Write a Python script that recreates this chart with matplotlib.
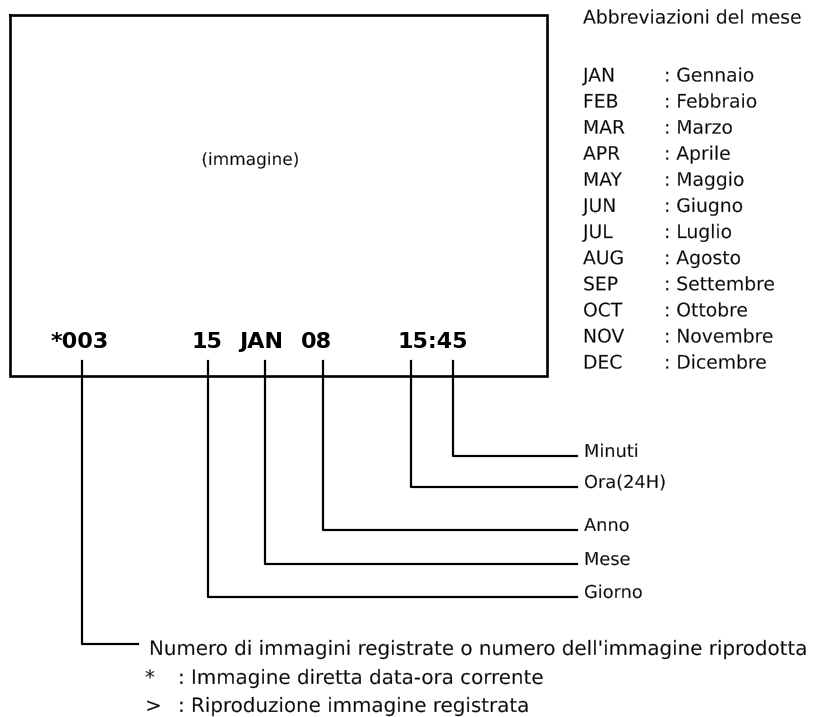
import matplotlib.pyplot as plt
import matplotlib.patheffects as pe

# display fields shown on screen (centre x) and leader drop positions
field_texts = ["*003", "15", "JAN", "08", "15:45"]
field_cx = [80, 207, 261, 316, 433]

# leaders: drop x, horizontal y, label
leader_x = [453, 411, 323, 265, 208]
leader_y = [456, 487, 530, 564, 597]
leader_labels = ["Minuti", "Ora(24H)", "Anno", "Mese", "Giorno"]

# month abbreviations
months_abbr = ["JAN", "FEB", "MAR", "APR", "MAY", "JUN",
               "JUL", "AUG", "SEP", "OCT", "NOV", "DEC"]
months_it = ["Gennaio", "Febbraio", "Marzo", "Aprile", "Maggio", "Giugno",
             "Luglio", "Agosto", "Settembre", "Ottobre", "Novembre", "Dicembre"]

notes_sym = ["*", ">"]
notes_txt = ["Immagine diretta data-ora corrente", "Riproduzione immagine registrata"]

plt.rcParams['font.family'] = ['DejaVu Sans']

# thin the regular glyphs a touch (reference font is light)
thin = [pe.Normal(), pe.Stroke(linewidth=0.2, foreground='white')]

fig = plt.figure(figsize=(8.3, 7.17), dpi=100)
ax = fig.add_axes([0, 0, 1, 1])
ax.set_xlim(0, 830)
ax.set_ylim(717, 0)
ax.axis('off')

def txt(x, y, s, size, **kw):
    kw.setdefault('ha', 'left')
    kw.setdefault('va', 'center')
    return ax.text(x, y, s, fontsize=size, color='black', path_effects=thin, **kw)

# screen box
ax.plot([10, 547, 547, 10, 10], [15, 15, 376, 376, 15], color='black', lw=1.9,
        solid_joinstyle='miter')
txt(250, 160, "(immagine)", 12.2, ha='center')

for t, x in zip(field_texts, field_cx):
    ax.text(x, 348, t, ha='center', va='baseline', fontsize=16,
            fontweight='bold', color='black')

lw = 1.6
# right-hand leaders
x_end = 577
for x, y, lab in zip(leader_x, leader_y, leader_labels):
    ax.plot([x, x, x_end], [361, y, y], color='black', lw=lw)
    txt(x_end + 7, y + 1, lab, 12.8, va='baseline')

# number-of-images leader
ax.plot([82, 82, 138], [361, 644, 644], color='black', lw=lw)
txt(149, 655, "Numero di immagini registrate o numero dell'immagine riprodotta",
    14.3, va='baseline')
for i, (s, t) in enumerate(zip(notes_sym, notes_txt)):
    y = 684 + i * 28
    txt(145, y, s, 14.3, va='baseline')
    txt(178, y, ": " + t, 14.3, va='baseline')

# month table
txt(583, 18, "Abbreviazioni del mese", 13.5)
for i, (a, m) in enumerate(zip(months_abbr, months_it)):
    y = 76 + i * 26.1
    txt(583, y, a, 13.5)
    txt(664, y, ": " + m, 13.5)

fig.savefig("out.png", dpi=100)
